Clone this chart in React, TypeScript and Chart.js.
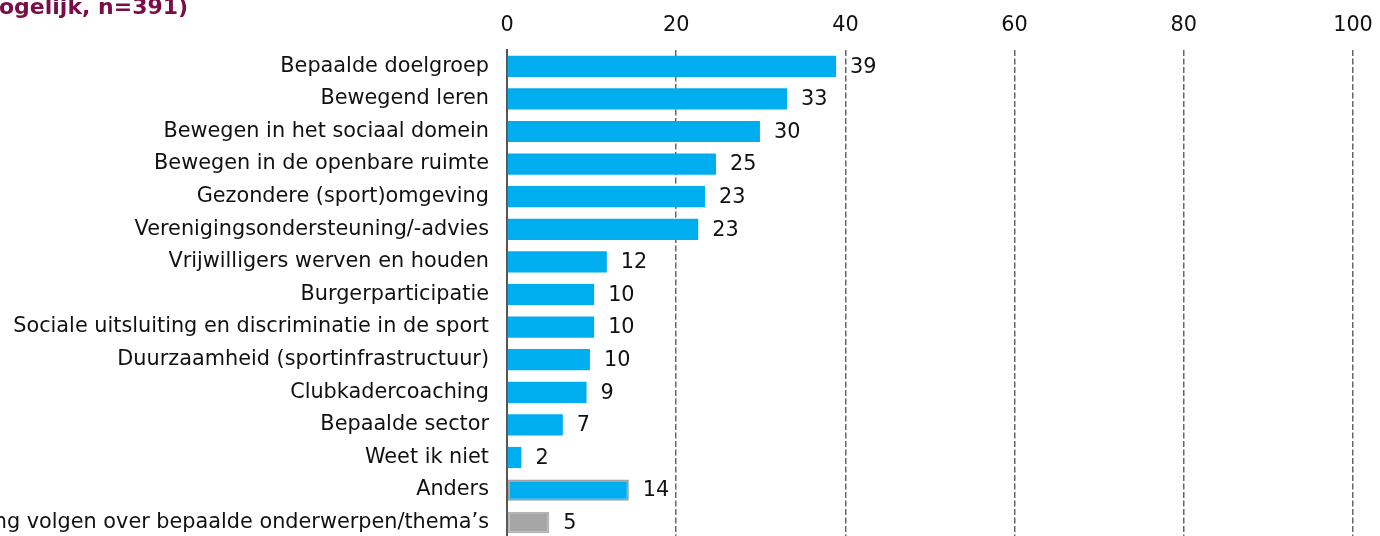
import React, { useEffect, useRef } from "react";
import { Chart, registerables } from "chart.js";

Chart.register(...registerables);

const categories = [
  "Bepaalde doelgroep",
  "Bewegend leren",
  "Bewegen in het sociaal domein",
  "Bewegen in de openbare ruimte",
  "Gezondere (sport)omgeving",
  "Verenigingsondersteuning/-advies",
  "Vrijwilligers werven en houden",
  "Burgerparticipatie",
  "Sociale uitsluiting en discriminatie in de sport",
  "Duurzaamheid (sportinfrastructuur)",
  "Clubkadercoaching",
  "Bepaalde sector",
  "Weet ik niet",
  "Anders",
  "ng volgen over bepaalde onderwerpen/thema\u2019s",
];

const values = [38.9, 33.1, 29.9, 24.7, 23.4, 22.6, 11.8, 10.3, 10.3, 9.8, 9.4, 6.6, 1.7, 14.4, 5.0];
const valueLabels = ["39", "33", "30", "25", "23", "23", "12", "10", "10", "10", "9", "7", "2", "14", "5"];
const xTicks = [0, 20, 40, 60, 80, 100];
const titleText = "ogelijk, n=391)";

const CYAN = "#00AEEF";
const GREY = "#A6A6A6";
const FONT = "'DejaVu Sans', Verdana, sans-serif";
const FS = 20.8;

export default function App() {
  const ref = useRef<HTMLCanvasElement | null>(null);

  useEffect(() => {
    const canvas = ref.current;
    if (!canvas) return;

    const barColors = categories.map((_, i) => (i === categories.length - 1 ? GREY : CYAN));
    const borderColors = categories.map((_, i) =>
      i === categories.length - 2 ? "#A0A0A0" : i === categories.length - 1 ? "#B4B4B4" : CYAN
    );
    const borderWidths = categories.map((_, i) => (i >= categories.length - 2 ? 2 : 0));

    const labelPlugin = {
      id: "valueLabels",
      afterDatasetsDraw(chart: any) {
        const ctx = chart.ctx;
        const meta = chart.getDatasetMeta(0);
        ctx.save();
        ctx.font = `${FS}px ${FONT}`;
        ctx.fillStyle = "#111";
        ctx.textAlign = "left";
        ctx.textBaseline = "middle";
        meta.data.forEach((bar: any, i: number) => {
          ctx.fillText(valueLabels[i], bar.x + 14, bar.y + 1);
        });
        ctx.restore();
      },
    };

    const titlePlugin = {
      id: "cutTitle",
      afterDraw(chart: any) {
        const ctx = chart.ctx;
        ctx.save();
        ctx.font = `bold 22px ${FONT}`;
        ctx.fillStyle = "#7A0C48";
        ctx.textAlign = "left";
        ctx.textBaseline = "alphabetic";
        ctx.fillText(titleText, -1, 13.5);
        ctx.restore();
      },
    };

    const chart = new Chart(canvas, {
      type: "bar",
      data: {
        labels: categories,
        datasets: [
          {
            data: values,
            backgroundColor: barColors,
            borderColor: borderColors,
            borderWidth: borderWidths,
            borderSkipped: false,
            categoryPercentage: 1,
            barPercentage: 0.65,
          },
        ],
      },
      options: {
        indexAxis: "y",
        responsive: false,
        animation: false,
        layout: { padding: { top: 0, right: 27, bottom: 1, left: 0 } },
        plugins: {
          legend: { display: false },
          tooltip: { enabled: false },
          title: { display: false },
        },
        scales: {
          x: {
            position: "top",
            min: 0,
            max: 100,
            afterBuildTicks(scale: any) {
              scale.ticks = xTicks.map((v) => ({ value: v }));
            },
            afterFit(scale: any) {
              scale.height = 50;
              scale.paddingLeft = 0;
              scale.paddingRight = 0;
            },
            ticks: {
              color: "#111",
              font: { family: FONT, size: FS },
              padding: 12,
              maxRotation: 0,
            },
            grid: {
              drawTicks: false,
              color: (c: any) => (c.tick && c.tick.value === 0 ? "rgba(0,0,0,0)" : "#666"),
              lineWidth: 1.5,
            },
            border: { display: false, dash: [6, 2.5] },
          },
          y: {
            afterFit(scale: any) {
              scale.width = 507;
              scale.paddingTop = 0;
              scale.paddingBottom = 0;
            },
            ticks: {
              color: "#111",
              font: { family: FONT, size: FS },
              padding: 18,
              autoSkip: false,
            },
            grid: { display: false, drawTicks: false },
            border: { display: true, color: "#555", width: 2 },
          },
        },
      },
      plugins: [labelPlugin, titlePlugin],
    });

    return () => chart.destroy();
  }, []);

  return (
    <div
      style={{
        position: "fixed",
        top: 0,
        left: 0,
        width: 1380,
        height: 536,
        overflow: "hidden",
        background: "#fff",
      }}
    >
      <canvas ref={ref} width={1380} height={540} style={{ width: 1380, height: 540, display: "block" }} />
    </div>
  );
}
